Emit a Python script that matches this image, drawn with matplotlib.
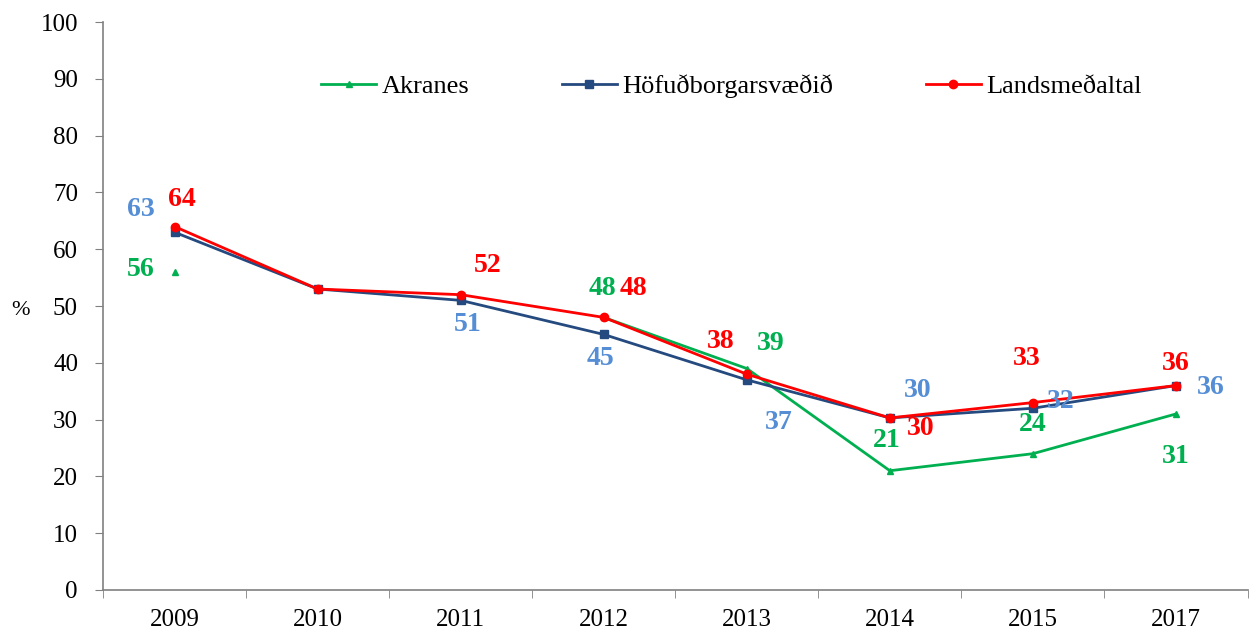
import numpy as np
import matplotlib.pyplot as plt

plt.rcParams['font.family'] = ['Liberation Serif', 'DejaVu Serif']

# Gögn
years = ['2009', '2010', '2011', '2012', '2013', '2014', '2015', '2017']
akranes = [56, np.nan, np.nan, 48, 39, 21, 24, 31]
hofudborg = [63, 53, 51, 45, 37, 30.3, 32, 36]
lands = [64, 53, 52, 48, 38, 30.3, 33, 36]

# Textar gagnamerkja og hliðrun þeirra (í pixlum)
akr_labels = ['56', None, None, '48', '39', '21', '24', '31']
akr_off = [(-34, 2), None, None, (-1, 29), (24, 25), (-3, 30), (0, 29), (0, -43)]
hof_labels = ['63', None, '51', '45', '37', '30', '32', '36']
hof_off = [(-34, 23), None, (7, -24), (-3, -24), (32, -43), (28, 27), (28, 7), (35, -2)]
lan_labels = ['64', None, '52', '48', '38', '30', '33', '36']
lan_off = [(7, 27), None, (27, 29), (30, 29), (-26, 33), (31, -11), (-6, 44), (0, 22)]

green = '#00B050'
navy = '#254A7F'
red = '#FF0000'
lightblue = '#558ED5'

fig = plt.figure(figsize=(12.5, 6.32), dpi=100)
ax = fig.add_axes([0.0824, 0.0665, 0.9156, 0.8985])

x = np.arange(len(years))
ax.plot(x, akranes, color=green, lw=2, marker='^', ms=5, label='Akranes')
ax.plot(x, hofudborg, color=navy, lw=2, marker='s', ms=6, label='Höfuðborgarsvæðið')
ax.plot(x, lands, color=red, lw=2, marker='o', ms=6, label='Landsmeðaltal')

def add_labels(vals, labels, offs, col):
    for i, (v, t, o) in enumerate(zip(vals, labels, offs)):
        if t is None:
            continue
        ax.annotate(t, (x[i], v), xytext=o, textcoords='offset pixels',
                    ha='center', va='center', fontsize=20, fontweight='bold', color=col)

add_labels(akranes, akr_labels, akr_off, green)
add_labels(hofudborg, hof_labels, hof_off, lightblue)
add_labels(lands, lan_labels, lan_off, red)

ax.set_xlim(-0.5, len(years) - 0.5)
ax.set_ylim(0, 100)
ax.set_yticks(range(0, 101, 10))
ax.set_xticks(x)
ax.set_xticklabels(years)
ax.set_xticks(np.arange(-0.5, len(years), 1), minor=True)
ax.tick_params(axis='x', which='major', length=0, pad=14, labelsize=18)
ax.tick_params(axis='x', which='minor', length=6, color='#808080')
ax.tick_params(axis='y', length=6, color='#808080', labelsize=18, pad=12)

for s in ['top', 'right']:
    ax.spines[s].set_visible(False)
for s in ['left', 'bottom']:
    ax.spines[s].set_color('#808080')
    ax.spines[s].set_linewidth(1.2)

ax.set_ylabel('%', rotation=0, fontsize=16, va='center', ha='center')
ax.yaxis.set_label_coords(-0.072, 0.493)

ax.legend(loc='center', bbox_to_anchor=(0.549, 0.887), ncol=3, frameon=False,
          fontsize=19, handlelength=2.1, columnspacing=3.5, handletextpad=0.2)

fig.savefig('out.png', dpi=100)
